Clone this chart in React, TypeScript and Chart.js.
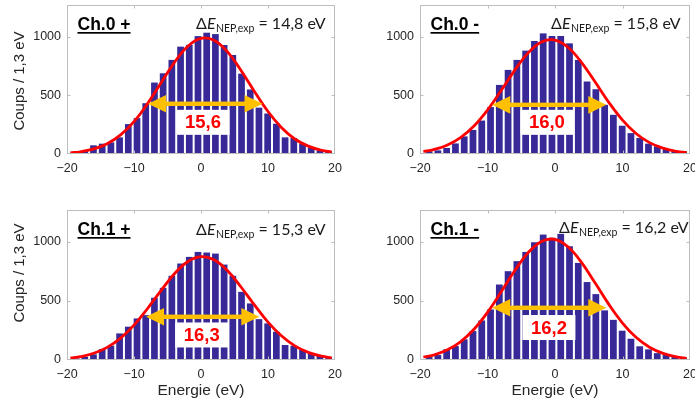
import React, { useEffect, useRef } from "react";
import { Chart, registerables } from "chart.js";

Chart.register(...registerables);

// ---- data ----
const binCenters = [
  -18.65, -17.35, -16.05, -14.75, -13.45, -12.15, -10.85, -9.55, -8.25, -6.95,
  -5.65, -4.35, -3.05, -1.75, -0.45, 0.85, 2.15, 3.45, 4.75, 6.05,
  7.35, 8.65, 9.95, 11.25, 12.55, 13.85, 15.15, 16.45, 17.75, 19.05,
];
const countsCh0Plus = [17, 31, 74, 88, 99, 142, 255, 306, 433, 609, 688, 802, 915, 930, 1005, 1034, 1022, 929, 844, 685, 550, 395, 345, 258, 142, 136, 88, 51, 31, 23];
const countsCh0Minus = [23, 31, 51, 90, 150, 205, 285, 400, 589, 717, 802, 881, 963, 1028, 1006, 1006, 943, 802, 618, 552, 419, 334, 241, 178, 136, 88, 65, 42, 31, 23];
const countsCh1Plus = [14, 28, 48, 93, 121, 225, 282, 352, 380, 527, 611, 713, 817, 873, 915, 910, 901, 808, 713, 577, 479, 346, 310, 239, 127, 121, 85, 56, 37, 20];
const countsCh1Minus = [25, 42, 90, 118, 175, 245, 335, 428, 639, 752, 837, 915, 997, 1062, 1035, 1068, 963, 822, 660, 558, 420, 340, 248, 180, 116, 90, 58, 48, 30, 18];

const fitX = [-19.5, -18, -16, -14, -12, -10, -8, -6, -4, -2, 0, 2, 4, 6, 8, 10, 12, 14, 16, 18, 19.5];
const fitCh0Plus = [10, 19, 43, 88, 163, 276, 427, 603, 778, 917, 986, 968, 868, 710, 531, 362, 226, 128, 67, 32, 17];
const fitCh0Minus = [20, 37, 75, 140, 239, 375, 539, 711, 860, 955, 971, 906, 775, 609, 438, 289, 175, 97, 50, 23, 12];
const fitCh1Plus = [15, 28, 57, 107, 185, 295, 434, 586, 728, 832, 875, 846, 753, 616, 464, 321, 205, 120, 65, 32, 18];
const fitCh1Minus = [24, 42, 84, 154, 260, 403, 575, 753, 907, 1004, 1021, 954, 820, 647, 469, 313, 192, 108, 56, 27, 14];

const xTicks = [-20, -10, 0, 10, 20];
const yTicks = [0, 500, 1000];
const xMin = -20;
const xMax = 20;
const yMax = 1270;

const panelNames = ["Ch.0 +", "Ch.0 -", "Ch.1 +", "Ch.1 -"];
const nepValues = ["14,8", "15,8", "15,3", "16,2"];
const fwhmLabels = ["15,6", "16,0", "16,3", "16,2"];
const arrowLeft = [-7.9, -9.3, -8.2, -9.3];
const arrowRight = [9.2, 7.6, 8.7, 7.6];
const arrowLevel = [428, 419, 366, 442];
const labelCenterX = [0.3, -1.2, 0.1, -0.9];
const labelCenterY = [270, 270, 212, 275];

const yTitle = "Coups / 1,3 eV";
const xTitle = "Energie (eV)";

const countsList = [countsCh0Plus, countsCh0Minus, countsCh1Plus, countsCh1Minus];
const fitList = [fitCh0Plus, fitCh0Minus, fitCh1Plus, fitCh1Minus];

// ---- layout (pixels) ----
const layouts = [
  { left: 0, top: 0, w: 345, h: 200, yAxisW: 67, padR: 10, padT: 5, xAxisH: 46, showY: true, showX: false, nepRight: 10, nepBase: 24, yTitleDy: 76 },
  { left: 345, top: 0, w: 350, h: 200, yAxisW: 75, padR: 5, padT: 5, xAxisH: 46, showY: false, showX: false, nepRight: 10, nepBase: 24, yTitleDy: 0 },
  { left: 0, top: 200, w: 345, h: 205, yAxisW: 67, padR: 10, padT: 10, xAxisH: 45, showY: true, showX: true, nepRight: 10, nepBase: 25, yTitleDy: 63 },
  { left: 345, top: 200, w: 350, h: 205, yAxisW: 75, padR: 5, padT: 10, xAxisH: 45, showY: false, showX: true, nepRight: 2, nepBase: 23, yTitleDy: 0 },
];

const SANS = '"Liberation Sans", Arial, sans-serif';
const CAL = 'Lato, "Liberation Sans", sans-serif';
const TEXT = "#262626";
const BOX = "#bdbdbd";

function fmtTick(v: number) {
  return v < 0 ? "\u2212" + String(Math.abs(v)) : String(v);
}

function makeDecor(i: number) {
  const L = layouts[i];
  return {
    id: "decor" + i,
    afterDatasetsDraw(chart: any) {
      const { ctx, chartArea: a, scales } = chart;
      const x = scales.x;
      const y = scales.y;
      ctx.save();
      // orange double arrow
      const yA = y.getPixelForValue(arrowLevel[i]);
      const xL = x.getPixelForValue(arrowLeft[i]);
      const xR = x.getPixelForValue(arrowRight[i]);
      const headL = 18;
      const headH = 8.8;
      const shaft = 2.2;
      ctx.fillStyle = "#FFC000";
      ctx.fillRect(xL + headL - 1, yA - shaft, xR - xL - 2 * headL + 2, shaft * 2);
      ctx.beginPath();
      ctx.moveTo(xL, yA);
      ctx.lineTo(xL + headL, yA - headH);
      ctx.lineTo(xL + headL, yA + headH);
      ctx.closePath();
      ctx.fill();
      ctx.beginPath();
      ctx.moveTo(xR, yA);
      ctx.lineTo(xR - headL, yA - headH);
      ctx.lineTo(xR - headL, yA + headH);
      ctx.closePath();
      ctx.fill();
      // FWHM label box
      const cx = x.getPixelForValue(labelCenterX[i]);
      const cy = y.getPixelForValue(labelCenterY[i]);
      ctx.fillStyle = "#ffffff";
      ctx.fillRect(cx - 26.5, cy - 12.5, 53, 25);
      ctx.fillStyle = "#ff0000";
      ctx.font = "bold 18.5px " + SANS;
      ctx.textAlign = "center";
      ctx.textBaseline = "middle";
      ctx.fillText(fwhmLabels[i], cx, cy + 1);
      ctx.restore();
    },
    afterDraw(chart: any) {
      const { ctx, chartArea: a, scales } = chart;
      const x = scales.x;
      const y = scales.y;
      ctx.save();
      // box
      const l = Math.round(a.left) + 0.5;
      const r = Math.round(a.right) - 0.5;
      const t = Math.round(a.top) + 0.5;
      const b = Math.round(a.bottom) - 0.5;
      ctx.strokeStyle = BOX;
      ctx.lineWidth = 1;
      ctx.strokeRect(l, t, r - l, b - t);
      ctx.beginPath();
      for (const v of xTicks) {
        if (v === xMin || v === xMax) continue;
        const px = Math.round(x.getPixelForValue(v)) + 0.5;
        ctx.moveTo(px, b);
        ctx.lineTo(px, b - 3);
        ctx.moveTo(px, t);
        ctx.lineTo(px, t + 3);
      }
      for (const v of yTicks) {
        if (v === 0) continue;
        const py = Math.round(y.getPixelForValue(v)) + 0.5;
        ctx.moveTo(l, py);
        ctx.lineTo(l + 3, py);
        ctx.moveTo(r, py);
        ctx.lineTo(r - 3, py);
      }
      ctx.stroke();

      // channel name, bold underlined
      ctx.fillStyle = "#000";
      ctx.font = "bold 17.5px " + SANS;
      ctx.textAlign = "left";
      ctx.textBaseline = "alphabetic";
      const nx = a.left + 10.5;
      const ny = a.top + 24.5;
      ctx.fillText(panelNames[i], nx, ny);
      const nw = ctx.measureText(panelNames[i]).width;
      ctx.fillRect(nx, ny + 2.5, nw, 1.7);

      // Delta E NEP,exp = value eV
      const base = a.top + L.nepBase;
      const endX = a.right - L.nepRight;
      const parts = [
        { t: "\u0394", f: "16px " + CAL, dy: 0 },
        { t: "E", f: "italic 16px " + CAL, dy: 0 },
        { t: "NEP,exp", f: "10.5px " + CAL, dy: 3 },
        { t: " = " + nepValues[i] + " eV", f: "16px " + CAL, dy: 0 },
      ];
      let total = 0;
      const widths: number[] = [];
      for (const p of parts) {
        ctx.font = p.f;
        const w = ctx.measureText(p.t).width;
        widths.push(w);
        total += w;
      }
      let px = endX - total;
      ctx.fillStyle = "#1a1a1a";
      parts.forEach((p, k) => {
        ctx.font = p.f;
        ctx.fillText(p.t, px, base + p.dy);
        px += widths[k] + (k === 1 ? 0.5 : 0);
      });

      // y title
      if (L.showY) {
        ctx.save();
        ctx.translate(a.left - 47, a.top + L.yTitleDy);
        ctx.rotate(-Math.PI / 2);
        ctx.font = "15px " + SANS;
        ctx.fillStyle = TEXT;
        ctx.textAlign = "center";
        ctx.textBaseline = "middle";
        ctx.fillText(yTitle, 0, 0);
        ctx.restore();
      }
      ctx.restore();
    },
  };
}

function Panel({ index }: { index: number }) {
  const ref = useRef<HTMLCanvasElement | null>(null);
  const L = layouts[index];
  useEffect(() => {
    if (!ref.current) return;
    const counts = countsList[index];
    const fit = fitList[index];
    const chart = new Chart(ref.current, {
      type: "bar",
      data: {
        datasets: [
          {
            type: "line",
            data: fitX.map((v, k) => ({ x: v, y: fit[k] })),
            borderColor: "#ff0000",
            borderWidth: 2.8,
            pointRadius: 0,
            tension: 0.4,
            fill: false,
            order: 0,
          } as any,
          {
            type: "bar",
            data: binCenters.map((v, k) => ({ x: v, y: counts[k] })),
            backgroundColor: "#372a98",
            borderWidth: 0,
            barPercentage: 0.77,
            categoryPercentage: 1,
            order: 1,
          } as any,
        ],
      },
      options: {
        responsive: false,
        maintainAspectRatio: false,
        animation: false,
        events: [],
        layout: { padding: { left: 0, right: L.padR, top: L.padT, bottom: 0 } },
        plugins: { legend: { display: false }, tooltip: { enabled: false } },
        scales: {
          x: {
            type: "linear",
            min: xMin,
            max: xMax,
            offset: false,
            grid: { display: false, drawTicks: false, offset: false },
            border: { display: false },
            afterBuildTicks: (s: any) => {
              s.ticks = xTicks.map((v) => ({ value: v }));
            },
            afterFit: (s: any) => {
              s.height = L.xAxisH;
              s.paddingLeft = 0;
              s.paddingRight = 0;
            },
            ticks: {
              autoSkip: false,
              maxRotation: 0,
              padding: 7,
              color: TEXT,
              font: { family: SANS, size: 12.5 },
              callback: (v: any) => fmtTick(Number(v)),
            },
            title: {
              display: L.showX,
              text: xTitle,
              color: TEXT,
              font: { family: SANS, size: 15.5 },
              padding: { top: 0, bottom: 5 },
            },
          },
          y: {
            type: "linear",
            min: 0,
            max: yMax,
            grid: { display: false, drawTicks: false },
            border: { display: false },
            afterBuildTicks: (s: any) => {
              s.ticks = yTicks.map((v) => ({ value: v }));
            },
            afterFit: (s: any) => {
              s.width = L.yAxisW;
              s.paddingTop = 0;
              s.paddingBottom = 0;
            },
            ticks: {
              padding: 6,
              color: TEXT,
              font: { family: SANS, size: 12.5 },
              callback: (v: any) => fmtTick(Number(v)),
            },
          },
        },
      },
      plugins: [makeDecor(index)],
    } as any);
    return () => chart.destroy();
  }, [index]);
  return (
    <canvas
      ref={ref}
      width={L.w}
      height={L.h}
      style={{ position: "absolute", left: L.left, top: L.top, width: L.w, height: L.h }}
    />
  );
}

export default function App() {
  return (
    <div style={{ position: "absolute", left: 0, top: 0, width: 695, height: 405, background: "#fff", overflow: "hidden" }}>
      {[0, 1, 2, 3].map((i) => (
        <Panel key={i} index={i} />
      ))}
    </div>
  );
}
